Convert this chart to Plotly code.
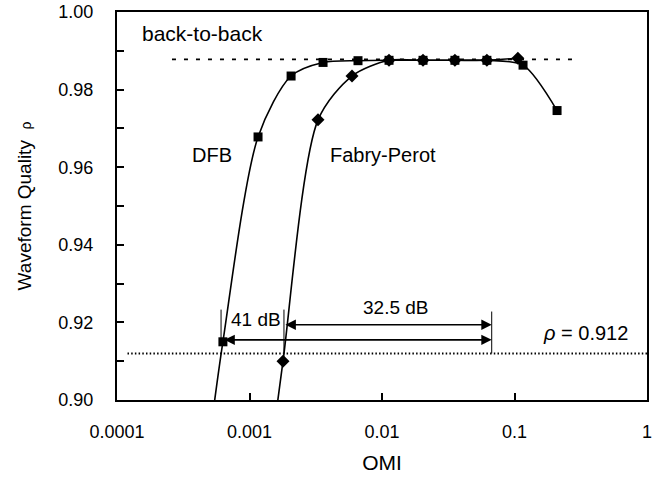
import numpy as np
import plotly.graph_objects as go

# ---- data ----
dfb_omi = [0.00050, 0.00063, 0.00116, 0.00206, 0.00359, 0.00659, 0.0113, 0.0204, 0.0355, 0.0619, 0.116, 0.2095]
dfb_rho = [0.890, 0.9150, 0.9678, 0.9835, 0.9870, 0.98745, 0.98755, 0.98755, 0.98755, 0.98755, 0.9863, 0.9746]

fp_omi = [0.00151, 0.00179, 0.00329, 0.00594, 0.0113, 0.0204, 0.0355, 0.0619, 0.106]
fp_rho = [0.891, 0.9100, 0.9722, 0.9835, 0.98755, 0.98755, 0.98755, 0.98755, 0.9881]

b2b_omi = [0.00026, 0.277]
b2b_rho = [0.9878, 0.9878]

thr_omi = [0.00012, 1.0]
thr_rho = [0.912, 0.912]

x_tickvals = [0.0001, 0.001, 0.01, 0.1, 1]
x_ticktext = ["0.0001", "0.001", "0.01", "0.1", "1"]
y_tickvals = [0.90, 0.92, 0.94, 0.96, 0.98, 1.00]
y_ticktext = ["0.90", "0.92", "0.94", "0.96", "0.98", "1.00"]

# span markers for the dB ranges
span_lo_dfb = 0.00061
span_lo_fp = 0.00182
span_hi = 0.0673
arrow_y_fp = 0.9194
arrow_y_dfb = 0.9155

FONT = "Liberation Sans, Arial, sans-serif"

fig = go.Figure()

fig.add_trace(go.Scatter(x=b2b_omi, y=b2b_rho, mode="lines",
                         line=dict(color="black", width=1.6, dash="4px,8px"),
                         hoverinfo="skip", showlegend=False))
fig.add_trace(go.Scatter(x=thr_omi, y=thr_rho, mode="lines",
                         line=dict(color="black", width=2, dash="1.5px,2.2px"),
                         hoverinfo="skip", showlegend=False))

fig.add_trace(go.Scatter(x=dfb_omi, y=dfb_rho, mode="lines+markers", name="DFB",
                         line=dict(color="black", width=1.6, shape="spline", smoothing=0.8),
                         marker=dict(symbol="square", size=9, color="black"),
                         showlegend=False))
fig.add_trace(go.Scatter(x=fp_omi, y=fp_rho, mode="lines+markers", name="Fabry-Perot",
                         line=dict(color="black", width=1.6, shape="spline", smoothing=0.8),
                         marker=dict(symbol="diamond", size=10, color="black"),
                         showlegend=False))

# vertical span markers
for xv, y0, y1 in [(span_lo_dfb, 0.9233, 0.9158), (span_lo_fp, 0.9233, 0.9120), (span_hi, 0.9228, 0.9120)]:
    fig.add_trace(go.Scatter(x=[xv, xv], y=[y0, y1], mode="lines",
                             line=dict(color="black", width=1),
                             hoverinfo="skip", showlegend=False))

annotations = []
for x0, yv in [(span_lo_fp, arrow_y_fp), (0.00063, arrow_y_dfb)]:
    annotations.append(dict(x=np.log10(span_hi), y=yv, ax=np.log10(x0), ay=yv,
                            xref="x", yref="y", axref="x", ayref="y",
                            showarrow=True, arrowhead=2, arrowside="end+start",
                            arrowsize=1.3, arrowwidth=1.6, arrowcolor="black",
                            standoff=0, startstandoff=0, text=""))

def txt(x, y, s, size=20, xanchor="center"):
    annotations.append(dict(x=x, y=y, xref="paper", yref="paper", text=s,
                            showarrow=False, xanchor=xanchor, yanchor="middle",
                            font=dict(family=FONT, size=size, color="black")))

# paper coordinates from pixel positions (plot area: x 117..647, y 12..400)
def px(xp):
    return (xp - 117) / 530.0

def py(yp):
    return (400 - yp) / 388.0

txt(px(140), py(33), "back-to-back", 21, "left")
txt(px(212), py(155), "DFB", 20)
txt(px(383), py(155), "Fabry-Perot", 20)
txt(px(256), py(319), "41 dB", 19)
txt(px(396), py(307), "32.5 dB", 19)
txt(px(585), py(333), "<i>ρ</i> = 0.912", 20)

fig.update_layout(
    width=655, height=481,
    margin=dict(l=117, r=8, t=12, b=81, autoexpand=False),
    paper_bgcolor="white", plot_bgcolor="white",
    font=dict(family=FONT, size=18, color="black"),
    annotations=annotations,
    showlegend=False,
)

fig.update_xaxes(type="log", range=[-4, 0], automargin=False,
                 tickvals=x_tickvals, ticktext=x_ticktext,
                 ticks="inside", ticklen=7, tickwidth=1.5, tickcolor="black",
                 showline=True, linecolor="black", linewidth=2, mirror=True,
                 showgrid=False, zeroline=False,
                 tickfont=dict(size=18), ticklabelstandoff=14,
                 title=dict(text="OMI", font=dict(size=21), standoff=15))

fig.update_yaxes(range=[0.90, 1.00], automargin=False,
                 tickvals=y_tickvals, ticktext=y_ticktext,
                 ticks="inside", ticklen=7, tickwidth=1.5, tickcolor="black",
                 minor=dict(dtick=0.01, tick0=0.9, ticks="inside", ticklen=7,
                            tickwidth=1.5, tickcolor="black", showgrid=False),
                 showline=True, linecolor="black", linewidth=2, mirror=True,
                 showgrid=False, zeroline=False,
                 tickfont=dict(size=18), ticklabelstandoff=18,
                 title=dict(text="Waveform Quality  <span style='font-size:14px'>ρ</span>",
                            font=dict(size=19), standoff=22))

fig.write_html("out.html", config={"displayModeBar": False},
               post_script="document.body.style.margin='0';document.body.style.overflow='hidden';")
